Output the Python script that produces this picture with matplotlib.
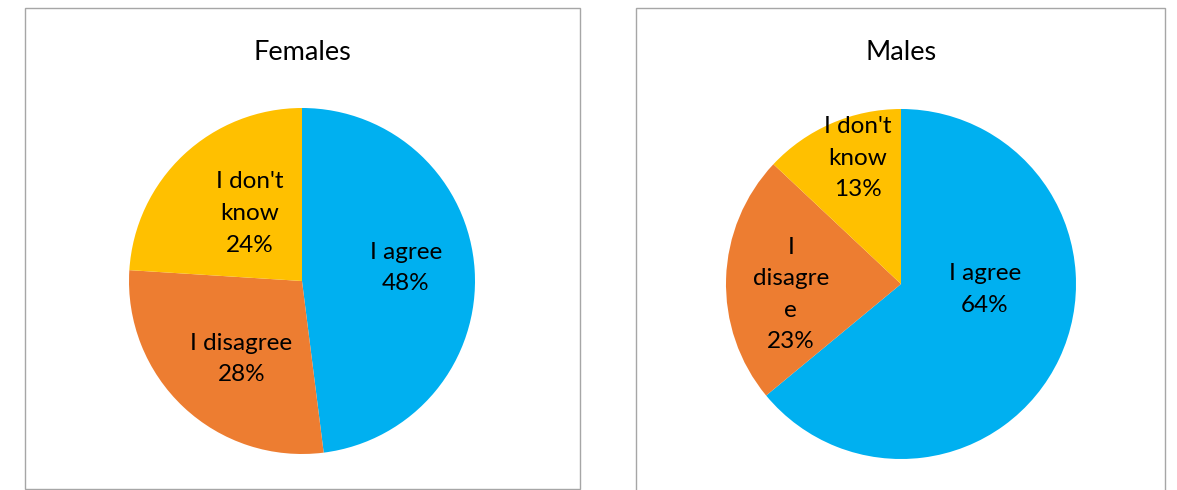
import matplotlib
matplotlib.use("Agg")
import matplotlib.pyplot as plt
from matplotlib.patches import Rectangle

plt.rcParams['font.family'] = ['Lato', 'DejaVu Sans']

categories = ["I agree", "I disagree", "I don't know"]
females = [48, 28, 24]
males = [64, 23, 13]
female_labels = ["I agree\n48%", "I disagree\n28%", "I don't\nknow\n24%"]
male_labels = ["I agree\n64%", "I\ndisagre\ne\n23%", "I don't\nknow\n13%"]
titles = ["Females", "Males"]

colors = ["#00B0F0", "#ED7D31", "#FFC000"]

W, H = 1177, 490
fig = plt.figure(figsize=(W / 100, H / 100), dpi=100)

# layout (pixels from top-left)
boxes = [(25, 8, 580, 489), (636, 8, 1165, 500)]
pies = [(302, 281, 173), (901, 284, 175)]
title_y = 52
# label centers in units of radius (layout only)
label_pos = [
    [(0.60, 0.075), (-0.35, -0.45), (-0.30, 0.39)],
    [(0.48, -0.03), (-0.63, -0.06), (-0.245, 0.72)],
]

for (x0, y0, x1, y1) in boxes:
    fig.patches.append(Rectangle((x0 / W, 1 - y1 / H), (x1 - x0) / W, (y1 - y0) / H,
                                 transform=fig.transFigure, fill=False,
                                 edgecolor="#A6A6A6", linewidth=1.0))

for i, (vals, labs) in enumerate([(females, female_labels), (males, male_labels)]):
    cx, cy, r = pies[i]
    ax = fig.add_axes([(cx - r) / W, 1 - (cy + r) / H, 2 * r / W, 2 * r / H])
    ax.pie(vals, colors=colors, startangle=90, counterclock=False, radius=1.0,
           wedgeprops=dict(linewidth=0))
    ax.set_xlim(-1, 1)
    ax.set_ylim(-1, 1)
    ax.set_aspect('equal')
    ax.axis('off')
    for (dx, dy), lab in zip(label_pos[i], labs):
        ax.text(dx, dy, lab, ha='center', va='center', fontsize=17.5,
                linespacing=1.62, color='black')
    fig.text(cx / W, 1 - title_y / H, titles[i], ha='center', va='center',
             fontsize=19.5, color='black')

fig.savefig("out.png", dpi=100, facecolor="white")
